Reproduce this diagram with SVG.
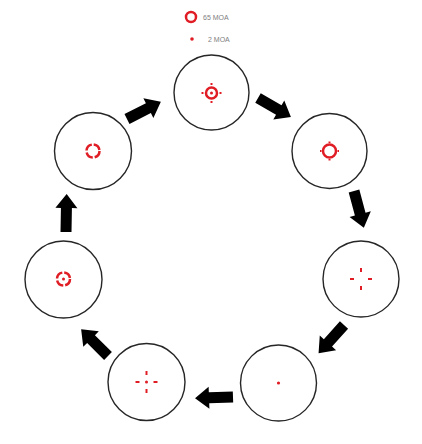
<svg xmlns="http://www.w3.org/2000/svg" xmlns:xlink="http://www.w3.org/1999/xlink" width="422" height="444" viewBox="0 0 422 444">
<style>
.scope{fill:#fff;stroke:#262626;stroke-width:1.4}
.ring{fill:none;stroke:#e01c24;stroke-width:2.5}
.tick{stroke:#e01c24;stroke-width:2;stroke-linecap:butt}
.dot{fill:#e01c24}
.arrow{fill:#000}
.lbl{font-family:"Liberation Sans",Arial,sans-serif;font-size:7px;fill:#808080}
</style>
<defs>
<path id="arr" class="arrow" d="M0,-5.5 L24,-5.5 L24,-11 L38,0 L24,11 L24,5.5 L0,5.5 Z"/>
</defs>
<rect width="422" height="444" fill="#fff"/>
<g id="legend">
<circle class="ring" cx="191" cy="17" r="5" stroke-width="2.4"/>
<text class="lbl" x="203" y="19.5">65 MOA</text>
<circle class="dot" cx="192" cy="39" r="1.8"/>
<text class="lbl" x="208" y="41.5">2 MOA</text>
</g>
<g id="connectors">
<use xlink:href="#arr" transform="translate(127,119) rotate(-27)"/>
<use xlink:href="#arr" transform="translate(258,98) rotate(30)"/>
<use xlink:href="#arr" transform="translate(354,191) rotate(75)"/>
<use xlink:href="#arr" transform="translate(344,325) rotate(132)"/>
<use xlink:href="#arr" transform="translate(233,397) rotate(178)"/>
<use xlink:href="#arr" transform="translate(108,356) rotate(-135)"/>
<use xlink:href="#arr" transform="translate(66,232) rotate(-89)"/>
</g>
<g id="n1">
<circle class="scope" cx="211.5" cy="92.5" r="37.5"/>
<circle class="ring" cx="211.5" cy="93" r="5.5"/>
<line class="tick" x1="211.5" y1="85" x2="211.5" y2="83"/>
<line class="tick" x1="211.5" y1="101" x2="211.5" y2="103"/>
<line class="tick" x1="203.5" y1="93" x2="201.5" y2="93"/>
<line class="tick" x1="219.5" y1="93" x2="221.5" y2="93"/>
<circle class="dot" cx="211.5" cy="93" r="1.5"/>
</g>
<g id="n2">
<circle class="scope" cx="329.5" cy="151" r="37.5"/>
<circle class="ring" cx="329.5" cy="151" r="6.5"/>
<line class="tick" x1="329.5" y1="143" x2="329.5" y2="141.5"/>
<line class="tick" x1="329.5" y1="159" x2="329.5" y2="160.5"/>
<line class="tick" x1="321.5" y1="151" x2="320" y2="151"/>
<line class="tick" x1="337.5" y1="151" x2="339" y2="151"/>
</g>
<g id="n3">
<circle class="scope" cx="93" cy="151" r="38.5"/>
<circle class="ring" cx="93" cy="151" r="6.5" stroke-dasharray="8.2 2"/>
</g>
<g id="n4">
<circle class="scope" cx="361" cy="279" r="38"/>
<line class="tick" x1="361" y1="268" x2="361" y2="272"/>
<line class="tick" x1="361" y1="286" x2="361" y2="290"/>
<line class="tick" x1="350" y1="279" x2="354" y2="279"/>
<line class="tick" x1="368" y1="279" x2="372" y2="279"/>
</g>
<g id="n5">
<circle class="scope" cx="278.5" cy="383" r="38"/>
<circle class="dot" cx="278.5" cy="383" r="1.6"/>
</g>
<g id="n6">
<circle class="scope" cx="146.5" cy="382" r="38.5"/>
<line class="tick" x1="146.5" y1="371" x2="146.5" y2="375"/>
<line class="tick" x1="146.5" y1="389" x2="146.5" y2="393"/>
<line class="tick" x1="135.5" y1="382" x2="139.5" y2="382"/>
<line class="tick" x1="153.5" y1="382" x2="157.5" y2="382"/>
<circle class="dot" cx="146.5" cy="382" r="1.5"/>
</g>
<g id="n7">
<circle class="scope" cx="63.5" cy="279.5" r="38.5"/>
<circle class="ring" cx="63.5" cy="279" r="6.5" stroke-dasharray="8.2 2"/>
<circle class="dot" cx="63.5" cy="279" r="1.5"/>
</g>
</svg>
